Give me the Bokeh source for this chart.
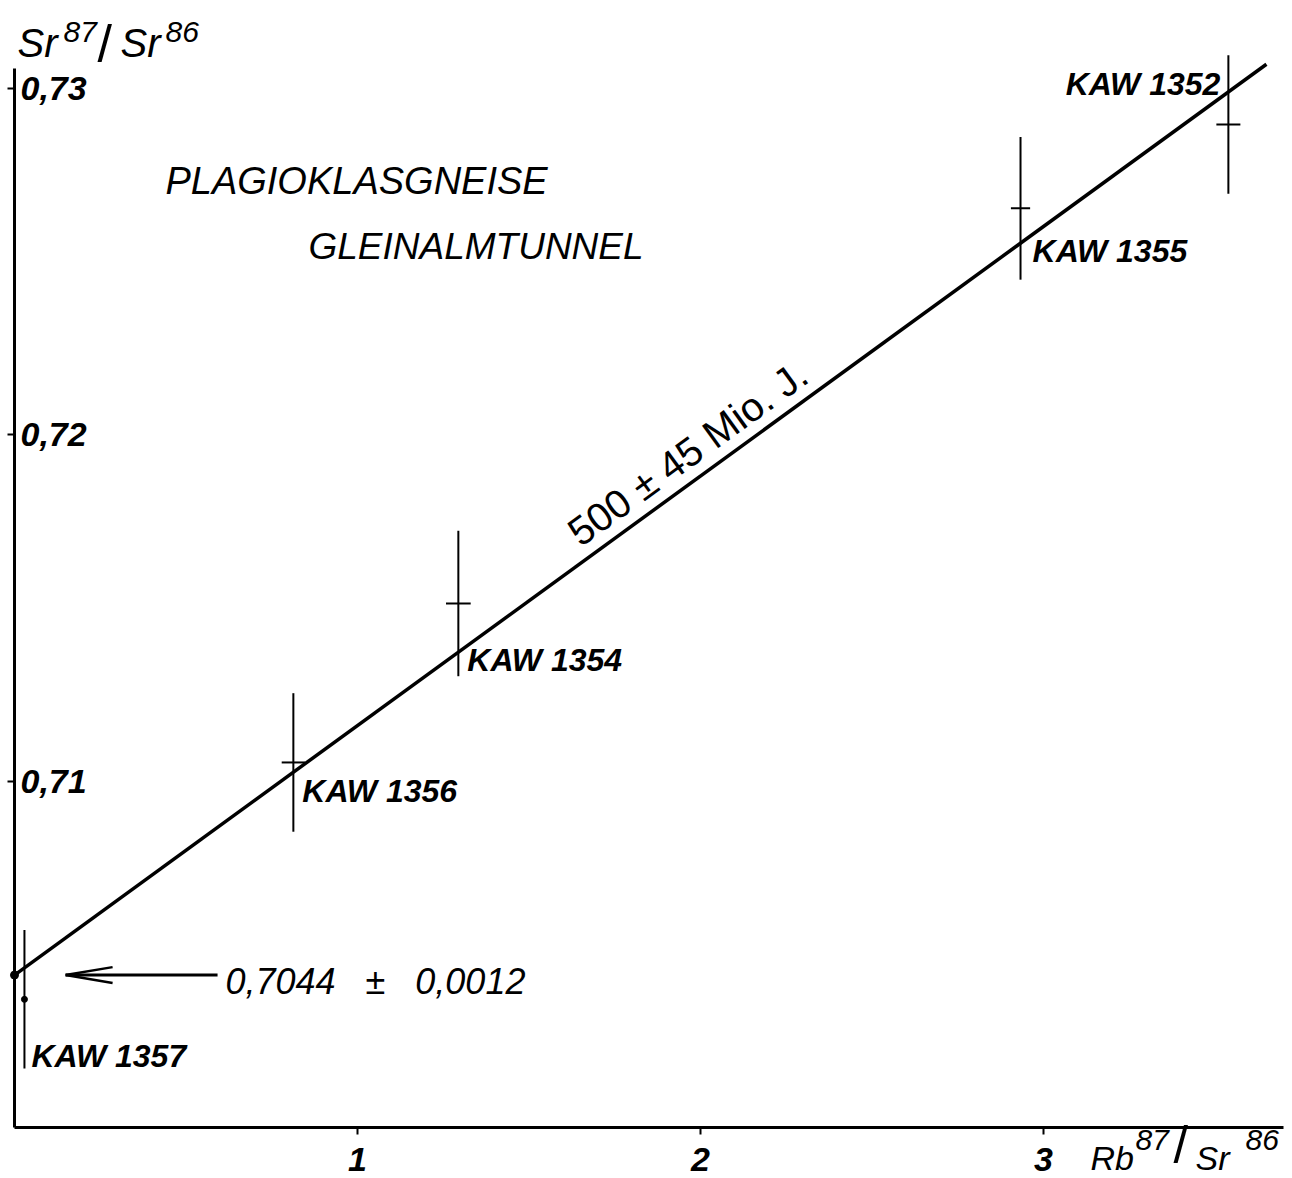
from bokeh.plotting import figure
from bokeh.models import Range1d, FixedTicker, Label, ColumnDataSource, LinearAxis
from bokeh.core.properties import value
from bokeh.embed import file_html
from bokeh.resources import INLINE

# ---------------- data ----------------
samples = ["KAW 1357", "KAW 1356", "KAW 1354", "KAW 1355", "KAW 1352"]
rb_sr = [0.029, 0.813, 1.294, 2.933, 3.539]            # Rb87/Sr86
sr_sr = [0.70370, 0.71054, 0.71513, 0.72654, 0.72896]  # Sr87/Sr86
sr_err = [0.0020, 0.0020, 0.0021, 0.00206, 0.0020]
rb_err = [0.0, 0.034, 0.036, 0.028, 0.035]

iso_x = [0.0, 3.65]          # isochron end points
iso_y = [0.7044, 0.7307]
intercept = 0.7044

x_ticks = [1, 2, 3]
y_ticks = [0.71, 0.72, 0.73]
y_tick_labels = ["0,71", "0,72", "0,73"]

x_axis_max = 3.6997
y_axis_max = 0.73058

# label placement (pixels, screen direction: +x right, +y down)
lab_dx = [7, 9, 9, 12, -8]
lab_dy = [57, 29, 57, 43, -41]
lab_align = ["left", "left", "left", "left", "right"]

FONT = "Liberation Sans"
BASE_FIX = 12   # pixels: lift alphabetic-baseline labels

p = figure(width=1292, height=1178, output_backend="svg", toolbar_location=None,
           x_range=Range1d(-0.04082, 3.72595), y_range=Range1d(0.698527, 0.732541),
           x_axis_location=None, y_axis_location=None,
           min_border=0)
p.background_fill_color = "white"
p.border_fill_color = "white"
p.outline_line_color = None
p.grid.visible = False

xaxis = LinearAxis(fixed_location=0.70, bounds=(0, x_axis_max),
                   ticker=FixedTicker(ticks=x_ticks))
yaxis = LinearAxis(fixed_location=0.0, bounds=(0.70, y_axis_max),
                   ticker=FixedTicker(ticks=y_ticks))
for ax in (xaxis, yaxis):
    ax.axis_line_width = 3
    ax.axis_line_color = "black"
    ax.major_tick_line_width = 2
    ax.major_tick_in = 0
    ax.major_tick_out = 7
    ax.minor_tick_out = 0
    ax.minor_tick_in = 0
xaxis.major_label_text_font = FONT
xaxis.major_label_text_font_style = "bold italic"
xaxis.major_label_text_font_size = "34px"
xaxis.major_label_text_color = "black"
xaxis.major_label_standoff = 14
yaxis.major_label_text_font_size = "0px"
yaxis.major_label_text_alpha = 0
yaxis.major_label_standoff = 0
p.add_layout(xaxis, "below")
p.add_layout(yaxis, "left")

src = ColumnDataSource(dict(
    x=rb_sr, y=sr_sr, name=samples,
    y0=[v - e for v, e in zip(sr_sr, sr_err)], y1=[v + e for v, e in zip(sr_sr, sr_err)],
    x0=[v - e for v, e in zip(rb_sr, rb_err)], x1=[v + e for v, e in zip(rb_sr, rb_err)],
    dx=lab_dx, dy=lab_dy, align=lab_align))

# error bars
p.segment(x0="x", y0="y0", x1="x", y1="y1", source=src, line_color="black", line_width=2)
p.segment(x0="x0", y0="y", x1="x1", y1="y", source=src, line_color="black", line_width=2)
# dot for KAW 1357
p.scatter(x=rb_sr[:1], y=sr_sr[:1], size=6, color="black")

# isochron
p.line(iso_x, iso_y, line_color="black", line_width=3.5)
p.scatter(x=[iso_x[0]], y=[iso_y[0]], size=8, color="black")

# sample labels
p.text(x="x", y="y", text="name", source=src, x_offset="dx", y_offset="dy",
       text_align="align", text_baseline="alphabetic",
       text_font=value(FONT), text_font_style="bold italic", text_font_size="32px",
       text_color="black")

# y tick labels (inside, right of the axis)
p.text(x=[0] * len(y_ticks), y=y_ticks, text=y_tick_labels, x_offset=6,
       text_align="left", text_baseline="middle",
       text_font=value(FONT), text_font_style="bold italic", text_font_size="34px",
       text_color="black")

# arrow to the intercept
arrow_tip, arrow_tail = 0.149, 0.592
head_len, head_half = 0.137, 0.00023
p.segment(x0=[arrow_tail], y0=[intercept], x1=[arrow_tip], y1=[intercept],
          line_color="black", line_width=3)
p.segment(x0=[arrow_tip, arrow_tip], y0=[intercept, intercept],
          x1=[arrow_tip + head_len] * 2, y1=[intercept + head_half, intercept - head_half],
          line_color="black", line_width=2.5)

def lab(x, y, text, size, style="italic", y_offset=0, **kw):
    p.add_layout(Label(x=x, y=y, text=text, text_font=FONT, text_font_style=style,
                       text_font_size=size, text_color="black",
                       text_baseline="alphabetic", y_offset=y_offset + BASE_FIX, **kw))

NB = "\u00a0"
lab(0.615, intercept, "0,7044" + NB * 2 + " ± " + NB * 2 + "0,0012", "36px", y_offset=-18)
lab(0.44, 0.72697, "PLAGIOKLASGNEISE", "38px")
lab(0.857, 0.72509, "GLEINALMTUNNEL", "37px")
lab(1.627, 0.71672, "500 ± 45 Mio. J.", "40px", style="normal", angle=0.627)

# y-axis title  Sr87/Sr86
lab(0.00875, 0.730953, "Sr", "40px")
lab(0.14286, 0.731271, "87", "30px")
lab(0.2420, 0.730925, "/", "52px", style="normal")
lab(0.30904, 0.730953, "Sr", "40px")
lab(0.44023, 0.731271, "86", "30px")

# x-axis title  Rb87/Sr86
lab(3.1370, 0.698758, "Rb", "34px")
lab(3.2682, 0.699278, "87", "30px")
lab(3.3790, 0.699134, "/", "52px", style="normal")
lab(3.4431, 0.698758, "Sr", "34px")
lab(3.5889, 0.699278, "86", "30px")

open("out.html", "w").write(file_html(p, INLINE))
